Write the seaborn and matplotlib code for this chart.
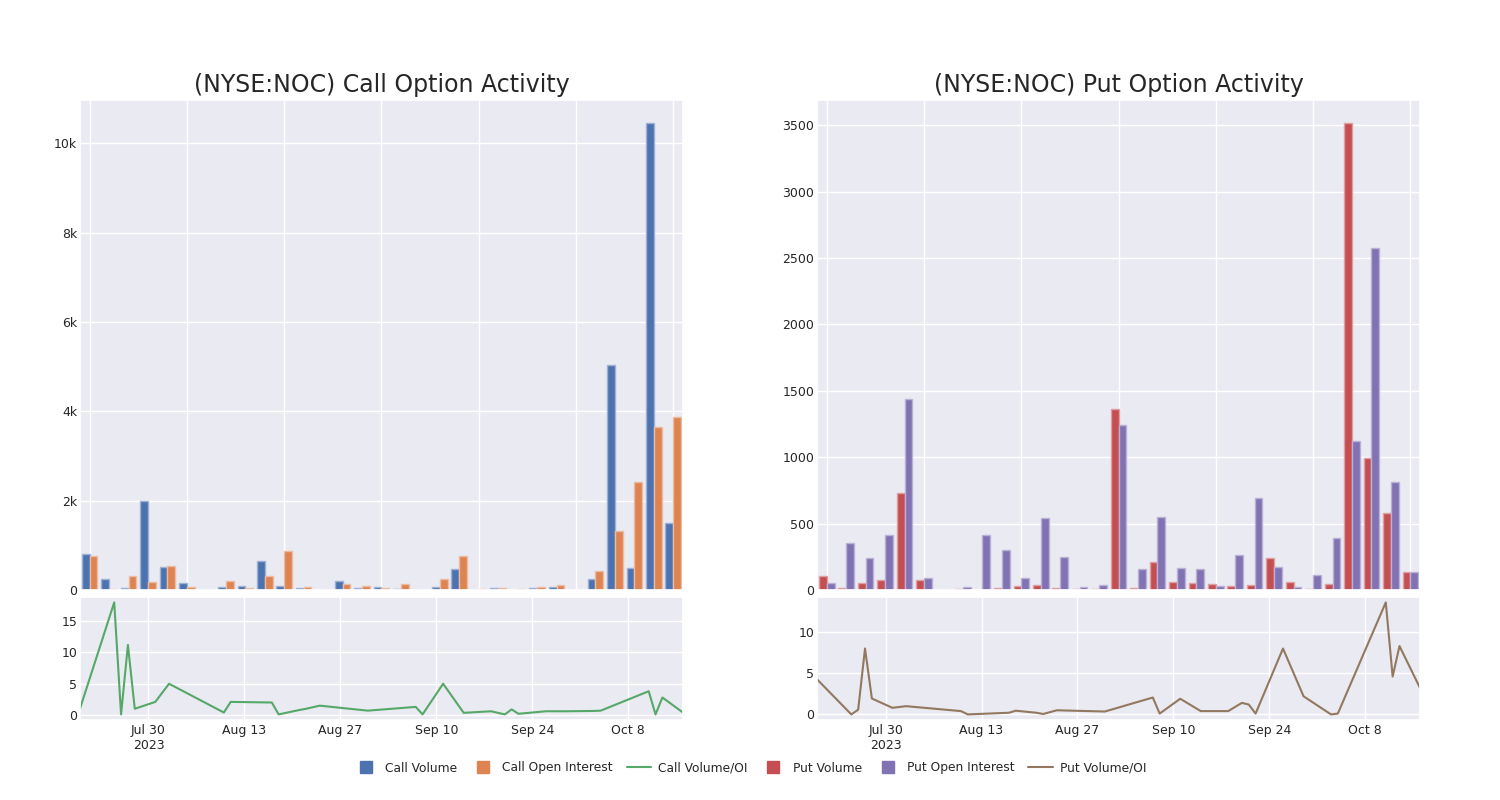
import matplotlib
matplotlib.use("Agg")
import matplotlib.pyplot as plt
import matplotlib.ticker as mticker
from matplotlib.lines import Line2D
import numpy as np
import pandas as pd
import seaborn as sns
from matplotlib.colors import to_rgb

dates = ["2023-07-20", "2023-07-25", "2023-07-26", "2023-07-27", "2023-07-28",
         "2023-07-31", "2023-08-02", "2023-08-10", "2023-08-11", "2023-08-17",
         "2023-08-18", "2023-08-21", "2023-08-22", "2023-08-24", "2023-08-31",
         "2023-09-07", "2023-09-08", "2023-09-11", "2023-09-14", "2023-09-18",
         "2023-09-20", "2023-09-21", "2023-09-22", "2023-09-26", "2023-09-29",
         "2023-10-03", "2023-10-04", "2023-10-11", "2023-10-12", "2023-10-13",
         "2023-10-16"]

call_volume = [800, 242, 38, 2000, 521, 151, 5, 75, 90, 642, 98, 53, 3, 204, 53,
               68, 30, 5, 75, 460, 2, 45, 3, 45, 68, 4, 257, 5030, 483, 10450, 1495]
call_oi = [763, 13, 310, 174, 528, 70, 1, 196, 40, 317, 876, 68, 3, 128, 83,
           50, 128, 1, 257, 770, 15, 45, 12, 75, 113, 6, 430, 1321, 2410, 3640, 3880]
call_ratio = [1.0, 18.0, 0.1, 11.2, 1.0, 2.1, 5.0, 0.4, 2.1, 2.0, 0.1, 0.8, 1.0, 1.5, 0.7,
              1.3, 0.1, 5.0, 0.35, 0.6, 0.1, 0.9, 0.2, 0.6, 0.6, 0.65, 0.7, 3.8, 0.1, 2.8, 0.4]

put_volume = [106, 18, 50, 78, 727, 78, 0, 8, 0, 15, 30, 40, 13, 10, 10,
              1366, 15, 210, 61, 50, 43, 33, 35, 242, 63, 5, 45, 3515, 995, 581, 136]
put_oi = [50, 351, 240, 414, 1442, 93, 0, 25, 414, 300, 91, 540, 252, 23, 35,
          1240, 159, 550, 167, 159, 28, 265, 694, 172, 25, 116, 391, 1126, 2578, 810, 134]
put_ratio = [4.26, 0.0, 0.57, 8.0, 1.93, 0.8, 1.0, 0.4, 0.0, 0.2, 0.45, 0.2, 0.05, 0.5, 0.35,
             2.05, 0.1, 1.9, 0.4, 0.4, 1.4, 1.2, 0.1, 8.0, 2.2, 0.0, 0.1, 13.6, 4.6, 8.3, 3.2]

line_ticks = ["2023-07-30", "2023-08-13", "2023-08-27", "2023-09-10", "2023-09-24", "2023-10-08"]
line_tick_labels = ["Jul 30\n2023", "Aug 13", "Aug 27", "Sep 10", "Sep 24", "Oct 8"]

deep = sns.color_palette("deep")
colors = {
    "Call Volume": deep[0], "Call Open Interest": deep[1], "Call Volume/OI": deep[2],
    "Put Volume": deep[3], "Put Open Interest": deep[4], "Put Volume/OI": deep[5],
}

sns.set_theme(style="darkgrid")
plt.rcParams['font.family'] = ['DejaVu Sans']

fig = plt.figure(figsize=(15, 8), dpi=100)

def k_fmt(v, pos):
    if v == 0:
        return "0"
    return f"{int(v / 1000)}k"

def draw_panel(left, kind, vol, oi, ratio, title, yfmt, line_yticks):
    ax_bar = fig.add_axes([left, 0.2625, 0.402, 0.6125])
    ax_line = fig.add_axes([left, 0.1, 0.402, 0.154])

    vol_name = f"{kind} Volume"
    oi_name = f"{kind} Open Interest"
    ratio_name = f"{kind} Volume/OI"

    df = pd.DataFrame({
        "date": dates * 2,
        "value": vol + oi,
        "series": [vol_name] * len(dates) + [oi_name] * len(dates),
    })
    sns.barplot(data=df, x="date", y="value", hue="series", ax=ax_bar,
                palette=[colors[vol_name], colors[oi_name]], saturation=1,
                width=0.8, legend=False)
    for p in ax_bar.patches:
        fc = np.array(to_rgb(p.get_facecolor()))
        p.set_edgecolor(tuple(fc * 0.55 + 0.45))
        p.set_linewidth(1)
    ax_bar.set_xticks(range(0, len(dates), 5))
    ax_bar.set_xticklabels([])
    ax_bar.set_xlim(-0.5, len(dates) - 0.5)
    ax_bar.xaxis.grid(True)
    ax_bar.set_axisbelow(True)
    ax_bar.set_xlabel("")
    ax_bar.set_ylabel("")
    ax_bar.yaxis.set_major_formatter(yfmt)
    ax_bar.tick_params(axis="y", labelsize=9, length=0, pad=2)
    ax_bar.tick_params(axis="x", length=0, pad=0)
    ax_bar.set_title(title, fontsize=17, pad=6)

    ldf = pd.DataFrame({"date": pd.to_datetime(dates), "ratio": ratio})
    sns.lineplot(data=ldf, x="date", y="ratio", ax=ax_line,
                 color=colors[ratio_name], linewidth=1.5)
    ax_line.set_xlim(ldf["date"].min(), ldf["date"].max())
    ax_line.set_xticks(pd.to_datetime(line_ticks))
    ax_line.set_xticklabels(line_tick_labels)
    ax_line.set_yticks(line_yticks)
    ax_line.set_xlabel("")
    ax_line.set_ylabel("")
    ax_line.tick_params(axis="y", labelsize=9, length=0, pad=2)
    ax_line.tick_params(axis="x", labelsize=9, length=0, pad=3)

draw_panel(0.0533, "Call", call_volume, call_oi, call_ratio,
           "(NYSE:NOC) Call Option Activity", mticker.FuncFormatter(k_fmt), [0, 5, 10, 15])
draw_panel(0.5447, "Put", put_volume, put_oi, put_ratio,
           "(NYSE:NOC) Put Option Activity", mticker.ScalarFormatter(), [0, 5, 10])

handles = []
for name, c in colors.items():
    if name.endswith("/OI"):
        handles.append(Line2D([0], [0], color=c, lw=1.5, label=name))
    else:
        handles.append(Line2D([0], [0], color=c, marker="s", linestyle="none",
                              markersize=9, label=name))
fig.legend(handles=handles, loc="center", bbox_to_anchor=(0.5, 0.04), ncol=6,
           frameon=False, fontsize=8.8, handlelength=2, handletextpad=0.6,
           columnspacing=1.1)

fig.savefig("out.png", dpi=100)
